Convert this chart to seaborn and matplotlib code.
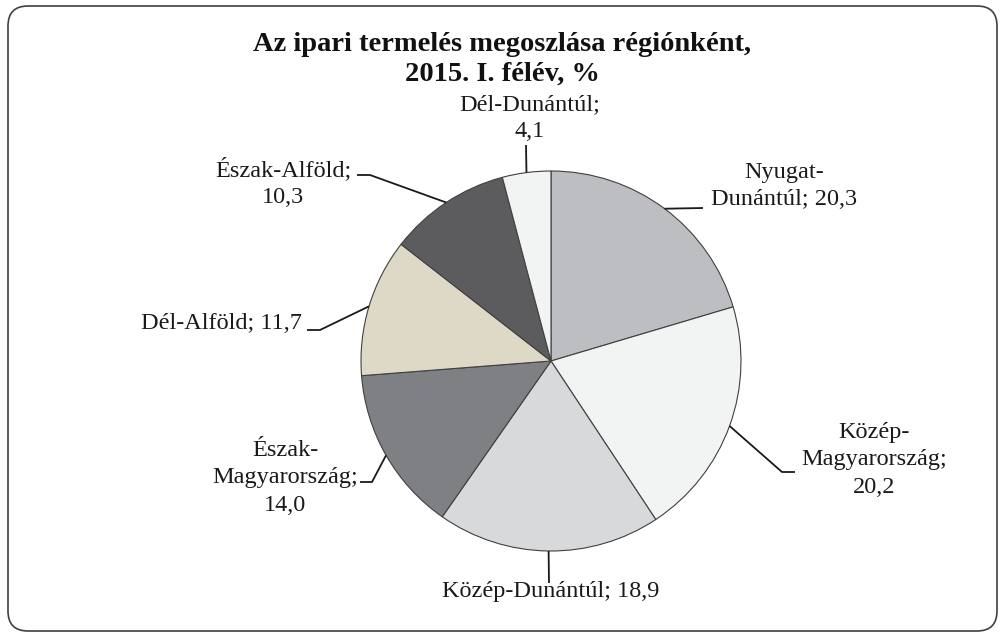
import numpy as np
import matplotlib
matplotlib.use("Agg")
import matplotlib.pyplot as plt
from matplotlib.patches import FancyBboxPatch
import seaborn as sns

# ---- data ----
regions = ["Nyugat-Dunántúl", "Közép-Magyarország", "Közép-Dunántúl",
           "Észak-Magyarország", "Dél-Alföld", "Észak-Alföld", "Dél-Dunántúl"]
shares = [20.3, 20.2, 18.9, 14.0, 11.7, 10.3, 4.1]
label_texts = ["Nyugat-\nDunántúl; 20,3", "Közép-\nMagyarország;\n20,2",
               "Közép-Dunántúl; 18,9", "Észak-\nMagyarország;\n14,0",
               "Dél-Alföld; 11,7", "Észak-Alföld;\n10,3", "Dél-Dunántúl;\n4,1"]
title = "Az ipari termelés megoszlása régiónként,\n2015. I. félév, %"

# ---- style ----
colors = ["#bdbec2", "#f2f3f3", "#d8d9db", "#7f8084", "#ddd9c6", "#5c5c5e", "#f2f3f3"]
sns.set_theme(style="white")
plt.rcParams['font.family'] = ['Liberation Serif', 'DejaVu Serif']

W, H = 1004, 637
fig = plt.figure(figsize=(W / 100, H / 100), dpi=100)
ax = fig.add_axes([0, 0, 1, 1])

cx, cy, R = 551, H - 361, 190
wedges, _ = ax.pie(shares, colors=colors, startangle=90, counterclock=False,
                   center=(cx, cy), radius=R, frame=True,
                   wedgeprops=dict(edgecolor="#404040", linewidth=0.8))
ax.set_xlim(0, W)
ax.set_ylim(0, H)
ax.set_aspect("equal")
ax.axis("off")

# layout for labels: (text x, text y) in pixel-from-top, leader elbow points
label_pos = [(784, 186), (874, 460), (551, 592), (285, 478),
             (222, 323), (283, 183), (530, 118)]
elbows = [[(703, 208)], [(782, 472), (795, 472)], [(549, 583)],
          [(372, 482), (360, 482)], [(320, 330), (307, 330)],
          [(370, 175), (357, 175)], [(526, 145)]]

total = sum(shares)
cum = 0.0
for i, v in enumerate(shares):
    mid = (cum + v / 2) / total * 2 * np.pi
    cum += v
    ex = cx + R * np.sin(mid)
    ey = cy + R * np.cos(mid)
    xs = [ex] + [p[0] for p in elbows[i]]
    ys = [ey] + [H - p[1] for p in elbows[i]]
    ax.plot(xs, ys, color="#1a1a1a", lw=1.3, solid_capstyle="butt")
    tx, ty = label_pos[i]
    ax.text(tx, H - ty, label_texts[i], ha="center", va="center",
            fontsize=17.5, color="#1a1a1a", linespacing=1.38)

ax.text(502, H - 59, title, ha="center", va="center", fontsize=20.5,
        fontweight="bold", color="#111111", linespacing=1.25)

frame = FancyBboxPatch((8, 6), 989, 625,
                       boxstyle="round,pad=0,rounding_size=20",
                       fill=False, edgecolor="#404040", linewidth=1.2)
ax.add_patch(frame)

fig.savefig("out.png", dpi=100, facecolor="white")
